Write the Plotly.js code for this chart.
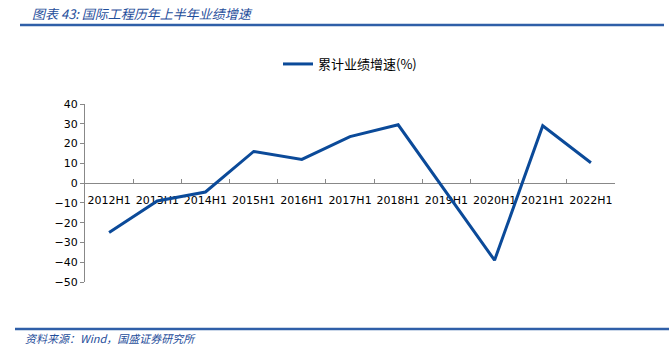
<!DOCTYPE html>
<html><head><meta charset="utf-8">
<script src="https://cdn.plot.ly/plotly-3.0.1.min.js"></script>
<style>html,body{margin:0;padding:0;background:#fff;}#chart{width:669px;height:350px;}</style>
</head><body><div id="chart"></div>
<script>
const categories = ['2012H1','2013H1','2014H1','2015H1','2016H1','2017H1','2018H1','2019H1','2020H1','2021H1','2022H1'];
const growth = [-25, -9, -4.5, 16, 12, 23.5, 29.5, -5, -39, 29, 10.3];
const seriesName = '累计业绩增速(%)';
const chartTitle = '图表 43: 国际工程历年上半年业绩增速';
const sourceText = '资料来源：Wind，国盛证券研究所';

const W = 669, H = 350, L = 85, R = 54, T = 104, B = 68;
const pw = W - L - R, ph = H - T - B;
const px = x => (x - L) / pw;
const py = y => (H - B - y) / ph;
const blue = '#0B4A99';
const rule = '#2F5FA8';

Plotly.newPlot('chart', [{
  x: categories, y: growth, type: 'scatter', mode: 'lines', name: seriesName,
  line: {color: blue, width: 3}
}], {
  width: W, height: H,
  margin: {l: L, r: R, t: T, b: B, pad: 0},
  paper_bgcolor: '#fff', plot_bgcolor: '#fff',
  font: {family: 'DejaVu Sans, Noto Sans CJK SC', size: 11, color: '#000'},
  showlegend: true,
  legend: {orientation: 'h', x: px(278), xanchor: 'left', y: py(64), yanchor: 'middle',
    font: {family: 'Noto Sans CJK SC, DejaVu Sans', size: 13, color: '#000'}, bgcolor: 'rgba(0,0,0,0)'},
  xaxis: {type: 'category', anchor: 'free', position: 50/90, showgrid: false, zeroline: false,
    showline: true, linecolor: '#888', linewidth: 1, ticks: 'inside', ticklen: 4, tickcolor: '#888',
    tickson: 'boundaries', tickangle: 0, ticklabelstandoff: 7, layer: 'below traces',
    tickfont: {size: 11, color: '#000'}, range: [-0.5, 10.5], fixedrange: true},
  yaxis: {range: [-50, 40], dtick: 10, showgrid: false, zeroline: false, showline: true,
    linecolor: '#888', linewidth: 1, ticks: 'outside', ticklen: 4, tickcolor: '#888',
    tickfont: {size: 11, color: '#000'}, fixedrange: true},
  shapes: [
    {type: 'line', xref: 'paper', yref: 'paper', x0: px(20), x1: px(664), y0: py(25), y1: py(25), line: {color: rule, width: 2.5}},
    {type: 'line', xref: 'paper', yref: 'paper', x0: px(15), x1: px(669), y0: py(329), y1: py(329), line: {color: rule, width: 2.5}}
  ],
  annotations: [
    {text: '<i>' + chartTitle + '</i>', xref: 'paper', yref: 'paper', x: px(30), y: py(13), xanchor: 'left', yanchor: 'middle',
      showarrow: false, font: {family: 'Noto Sans CJK SC', size: 13, color: '#1F4E9B'}},
    {text: '<i>' + sourceText + '</i>', xref: 'paper', yref: 'paper', x: px(23), y: py(338), xanchor: 'left', yanchor: 'middle',
      showarrow: false, font: {family: 'Noto Sans CJK SC', size: 11, color: '#1F4E9B'}}
  ]
}, {staticPlot: true});
</script></body></html>
